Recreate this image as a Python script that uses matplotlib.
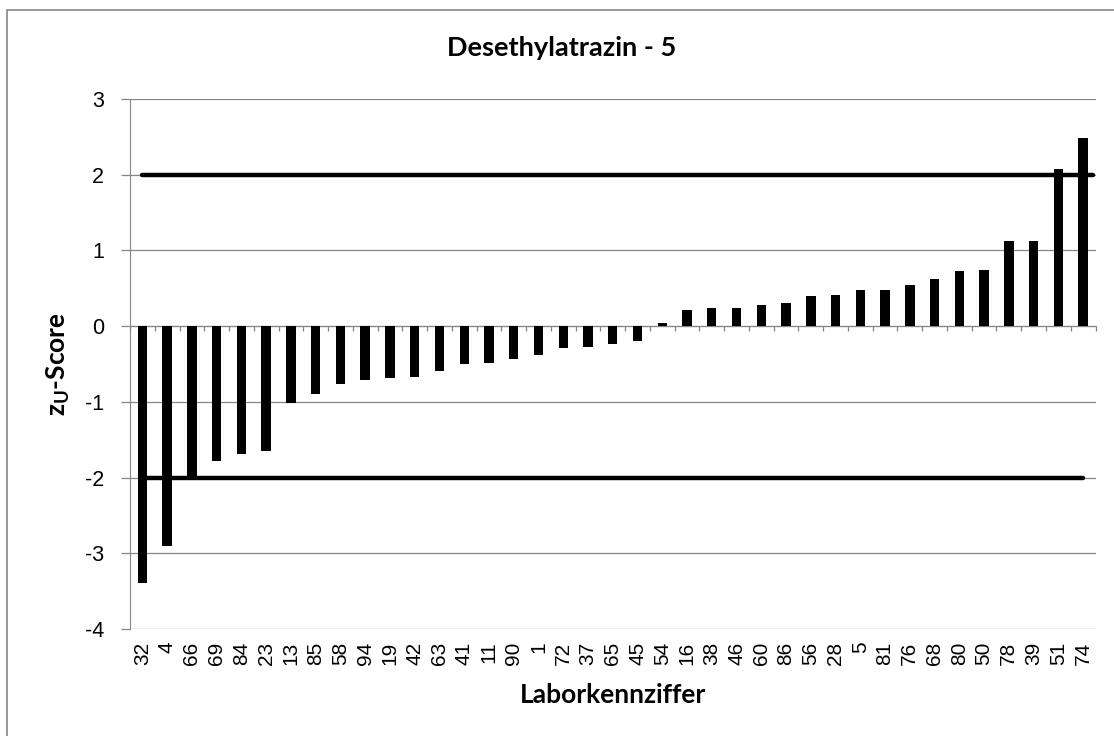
import matplotlib.pyplot as plt
import numpy as np
from matplotlib.patches import Rectangle

# Datos
labor = ['32', '4', '66', '69', '84', '23', '13', '85', '58', '94', '19', '42', '63',
         '41', '11', '90', '1', '72', '37', '65', '45', '54', '16', '38', '46', '60',
         '86', '56', '28', '5', '81', '76', '68', '80', '50', '78', '39', '51', '74']
zu_score = [-3.39, -2.91, -2.03, -1.78, -1.69, -1.65, -1.01, -0.89, -0.77, -0.71,
            -0.68, -0.67, -0.59, -0.50, -0.49, -0.44, -0.38, -0.29, -0.28, -0.23,
            -0.19, 0.04, 0.21, 0.24, 0.24, 0.28, 0.30, 0.40, 0.41, 0.48,
            0.48, 0.54, 0.62, 0.73, 0.74, 1.12, 1.12, 2.08, 2.48]
grenze_oben = 2
grenze_unten = -2

plt.rcParams['font.family'] = 'Liberation Sans'
plt.rcParams['mathtext.default'] = 'regular'
plt.rcParams['axes.unicode_minus'] = False
gris = '#868686'

fig = plt.figure(figsize=(11.14, 7.36), dpi=100)
ax = fig.add_axes([130 / 1114, 1 - 629 / 736, 965.5 / 1114, 530 / 736])

x = np.arange(len(labor))
ax.bar(x, zu_score, width=0.38, color='black', zorder=3)
ax.plot([x[0], x[-1] + 0.38], [grenze_oben, grenze_oben], color='black', lw=3.2,
        solid_capstyle='round', zorder=4, clip_on=False)
ax.plot([x[0], x[-1]], [grenze_unten, grenze_unten], color='black', lw=3.2,
        solid_capstyle='round', zorder=4)

ax.set_xlim(-0.5, len(labor) - 0.5)
ax.set_ylim(-4, 3)
ax.set_yticks(range(-4, 4))
ax.yaxis.grid(True, color=gris, lw=0.9)
ax.set_axisbelow(True)

for s in ['top', 'right']:
    ax.spines[s].set_visible(False)
ax.spines['left'].set_color(gris)
ax.spines['bottom'].set_color(gris)
ax.spines['bottom'].set_position(('data', 0))

# marcas entre categorías sobre la línea cero
ax.set_xticks(np.arange(len(labor) + 1) - 0.5, labels=[])
ax.tick_params(axis='x', direction='out', length=3.6, color=gris, width=0.9)
ax.tick_params(axis='y', length=6.5, color=gris, width=0.9, pad=12, labelsize=15.5)

# etiquetas abajo
sec = ax.secondary_xaxis(0)
sec.set_xticks(x, labels=labor)
sec.tick_params(length=0, pad=9, rotation=90, labelsize=15)
sec.spines['bottom'].set_visible(False)

ax.set_xlabel('Laborkennziffer', family='Lato', fontweight='bold', fontsize=19)
ax.xaxis.set_label_coords(0.5, -0.102)
ax.set_ylabel(r'z$_{U}$-Score', family='Lato', fontweight='bold', fontsize=19)
ax.yaxis.set_label_coords(-0.060, 0.5)

fig.text(0.504, 1 - 48 / 736, 'Desethylatrazin - 5', family='Lato', fontweight='bold',
         fontsize=19.5, ha='center', va='center')

# marco del gráfico
fig.add_artist(Rectangle((7 / 1114, -0.05), 1.2, 1.05 - 10 / 736, transform=fig.transFigure,
                         fill=False, edgecolor=gris, lw=1.2))

fig.savefig('out.png', dpi=100)
